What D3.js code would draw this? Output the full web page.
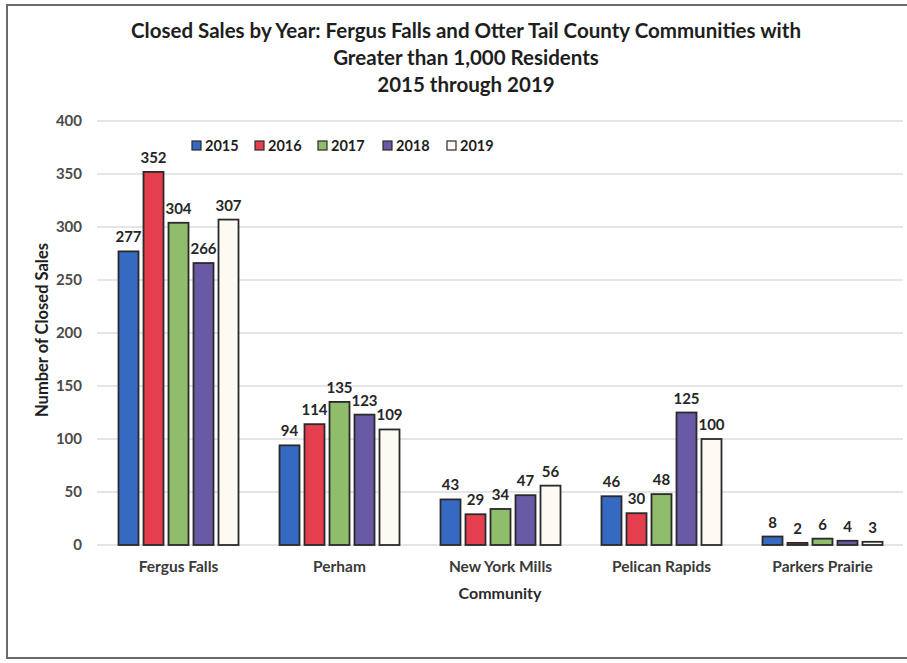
<!DOCTYPE html>
<html>
<head>
<meta charset="utf-8">
<script src="https://cdn.jsdelivr.net/npm/d3@7"></script>
<style>
  html, body { margin: 0; padding: 0; background: #fff; }
  svg { display: block; font-family: Lato, "Open Sans", sans-serif; }
</style>
</head>
<body>
<svg id="chart" width="907" height="663"></svg>
<script>
// Closed sales per community, one array per year
const communities = ["Fergus Falls", "Perham", "New York Mills", "Pelican Rapids", "Parkers Prairie"];
const years = ["2015", "2016", "2017", "2018", "2019"];
const sales2015 = [277, 94, 43, 46, 8];
const sales2016 = [352, 114, 29, 30, 2];
const sales2017 = [304, 135, 34, 48, 6];
const sales2018 = [266, 123, 47, 125, 4];
const sales2019 = [307, 109, 56, 100, 3];
const yearColors = ["#3669c2", "#e53e4e", "#8fbd6b", "#6a5aa6", "#fdfaf3"];
const yTicks = [0, 50, 100, 150, 200, 250, 300, 350, 400];
const titleLines = [
  "Closed Sales by Year: Fergus Falls and Otter Tail County Communities with",
  "Greater than 1,000 Residents",
  "2015 through 2019"
];

const seriesByYear = [sales2015, sales2016, sales2017, sales2018, sales2019];
const rows = communities.map((c, i) => ({
  community: c,
  values: years.map((yr, j) => ({ year: yr, value: seriesByYear[j][i] }))
}));

const svg = d3.select("#chart");

// outer frame
svg.append("rect")
  .attr("x", 7).attr("y", 5).attr("width", 912).attr("height", 653)
  .attr("fill", "#fff").attr("stroke", "#6a6a6a").attr("stroke-width", 2);

const x0 = d3.scaleBand().domain(communities).range([98, 903]).padding(0);
const x1 = d3.scaleBand().domain(years)
  .range([20.5, x0.bandwidth() - 20.5]).paddingInner(0.2);
const y = d3.scaleLinear().domain([0, 400]).range([545, 121]);
const color = d3.scaleOrdinal().domain(years).range(yearColors);

// gridlines
svg.append("g")
  .selectAll("line")
  .data(yTicks)
  .join("line")
  .attr("x1", 97).attr("x2", 903)
  .attr("y1", d => y(d)).attr("y2", d => y(d))
  .attr("stroke", "#dcdcdc").attr("stroke-width", 1.5);

// y axis tick labels
const yAxis = d3.axisLeft(y).tickValues(yTicks).tickSize(0).tickPadding(0);
const yg = svg.append("g").attr("transform", "translate(82,0)").call(yAxis);
yg.select(".domain").remove();
yg.selectAll("text")
  .attr("font-family", "Lato, sans-serif")
  .attr("font-size", 15).attr("font-weight", 700).attr("fill", "#4a4a4a");

// x axis category labels
const xAxis = d3.axisBottom(x0).tickSize(0).tickPadding(0);
const xg = svg.append("g").attr("transform", "translate(0,561)").call(xAxis);
xg.select(".domain").remove();
xg.selectAll("text")
  .attr("font-family", "Lato, sans-serif")
  .attr("font-size", 15.5).attr("font-weight", 700).attr("fill", "#3a3a3a");

// bars
const groups = svg.append("g")
  .selectAll("g")
  .data(rows)
  .join("g")
  .attr("transform", d => `translate(${x0(d.community)},0)`);

groups.selectAll("rect")
  .data(d => d.values)
  .join("rect")
  .attr("x", d => x1(d.year))
  .attr("y", d => y(d.value))
  .attr("width", x1.bandwidth())
  .attr("height", d => y(0) - y(d.value))
  .attr("fill", d => color(d.year))
  .attr("stroke", "#2a2a2a").attr("stroke-width", 1.8);

// value labels
groups.selectAll("text")
  .data(d => d.values)
  .join("text")
  .attr("x", d => x1(d.year) + x1.bandwidth() / 2)
  .attr("y", d => y(d.value) - 9)
  .attr("text-anchor", "middle")
  .attr("font-size", 15).attr("font-weight", 700).attr("fill", "#262626")
  .text(d => d.value);

// title
svg.append("text")
  .attr("x", 466).attr("y", 38)
  .attr("text-anchor", "middle")
  .attr("font-size", 20.5).attr("font-weight", 700).attr("fill", "#1e1e1e")
  .selectAll("tspan")
  .data(titleLines)
  .join("tspan")
  .attr("x", 466)
  .attr("dy", (d, i) => i === 0 ? 0 : 27)
  .text(d => d);

// y axis title
svg.append("text")
  .attr("transform", "translate(48,330) rotate(-90)")
  .attr("text-anchor", "middle")
  .attr("font-size", 16.5).attr("font-weight", 700).attr("fill", "#1e1e1e")
  .text("Number of Closed Sales");

// x axis title
svg.append("text")
  .attr("x", 500).attr("y", 599)
  .attr("text-anchor", "middle")
  .attr("font-size", 16).attr("font-weight", 700).attr("fill", "#2a2a2a")
  .text("Community");

// legend
const legendX = [192, 255, 318, 383, 447];
const legend = svg.append("g")
  .selectAll("g")
  .data(years)
  .join("g")
  .attr("transform", (d, i) => `translate(${legendX[i]},141)`);
legend.append("rect")
  .attr("width", 9).attr("height", 9)
  .attr("fill", d => color(d))
  .attr("stroke", "#2a2a2a").attr("stroke-width", 1.2);
legend.append("text")
  .attr("x", 13).attr("y", 10)
  .attr("font-size", 14.5).attr("font-weight", 700).attr("fill", "#1e1e1e")
  .text(d => d);
</script>
</body>
</html>
